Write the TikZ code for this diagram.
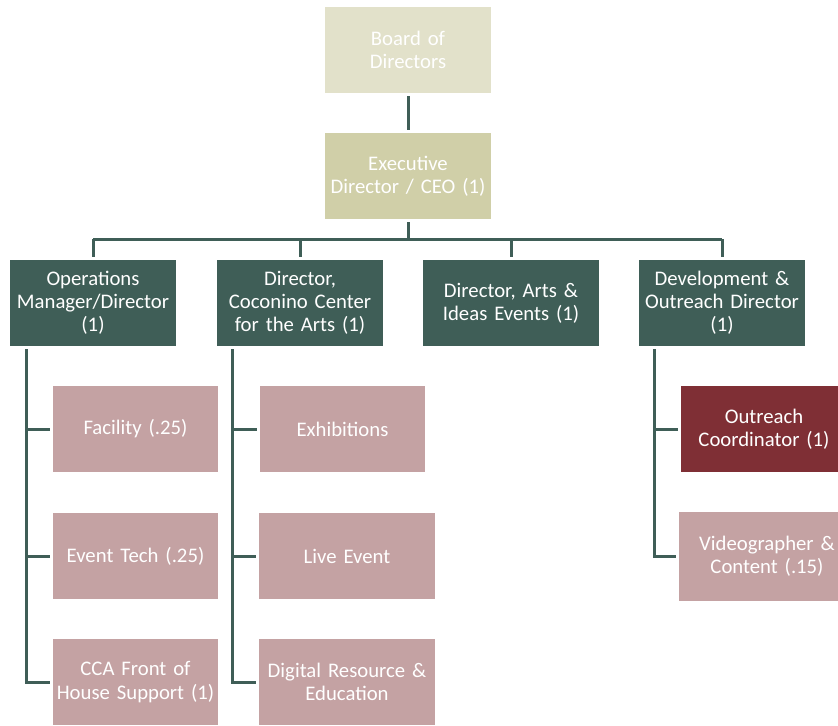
\documentclass[tikz,border=0pt]{standalone}
\usepackage{fontspec}
\setmainfont{Carlito}
\definecolor{BoardBeige}{RGB}{226,225,202}
\definecolor{ExecOlive}{RGB}{208,207,168}
\definecolor{LeadGreen}{RGB}{63,94,87}
\definecolor{StaffPink}{RGB}{196,162,163}
\definecolor{OutreachRed}{RGB}{127,47,53}
\usetikzlibrary{positioning, calc}

\begin{document}
\begin{tikzpicture}[x=0.02cm, y=-0.02cm,
    role/.style={text=white, inner sep=0pt, outer sep=0pt, align=center,
      text width=#1, minimum width=#1, minimum height=1.72cm,
      font=\fontsize{11.8}{13.2}\selectfont},
    role/.default=3.32cm,
    board/.style={role, fill=BoardBeige},
    chief/.style={role, fill=ExecOlive},
    lead/.style={role=#1, fill=LeadGreen},
    lead/.default=3.32cm,
    staff/.style={role=#1, fill=StaffPink},
    staff/.default=3.32cm,
    link/.style={draw=LeadGreen, line width=0.06cm, shorten <=0.06cm, shorten >=0.06cm}
  ]
  \useasboundingbox (0,0) rectangle (838,725);

  % top of the chart
  \node[board] (board) at (408,50) {Board of\\Directors};
  \node[chief] (exec) at (408,176) {Executive\\Director / CEO (1)};

  % directors
  \node[lead] (ops) at (93,303) {Operations\\Manager/Director\\(1)};
  \node[lead] (cca) at (300,303) {Director,\\Coconino Center\\for the Arts (1)};
  \node[lead=3.52cm] (arts) at (511,303) {Director, Arts \&\\Ideas Events (1)};
  \node[lead] (dev) at (722,303) {Development \&\\Outreach Director\\(1)};

  % operations staff
  \node[staff] (fac) at (135.5,429) {Facility (.25)};
  \node[staff] (tech) at (135.5,556) {Event Tech (.25)};
  \node[staff] (front) at (135.5,682) {CCA Front of\\House Support (1)};

  % arts center staff
  \node[staff] (exh) at (342.5,429) {Exhibitions};
  \node[staff=3.52cm] (live) at (347,556) {Live Event};
  \node[staff=3.52cm] (digi) at (347,682) {Digital Resource \&\\Education};

  % outreach staff
  \node[role, fill=OutreachRed] (outr) at (764,429) {Outreach\\Coordinator (1)};
  \node[staff=3.52cm, minimum height=1.78cm] (video) at (767,556) {Videographer \&\\Content (.15)};

  % connectors
  \draw[link] (board) -- (exec);
  \coordinate (bus) at (408,239);
  \draw[link, shorten >=0pt] (exec.south) -- (bus);
  \draw[link, shorten <=0pt, shorten >=0pt] (ops.north |- bus) -- (dev.north |- bus);
  \foreach \n in {ops,cca,arts,dev}
    \draw[link, shorten <=0pt] (\n.north |- bus) -- (\n.north);

  \coordinate (opsrail) at ($(ops.south west)+(16,0)$);
  \coordinate (ccarail) at ($(cca.south west)+(15,0)$);
  \coordinate (devrail) at ($(dev.south west)+(15,0)$);
  \draw[link] (opsrail) |- (front.west);
  \draw[link] (ccarail) |- (digi.west);
  \draw[link] (devrail) |- (video.west);
  \foreach \c in {fac,tech}
    \draw[link, shorten <=0pt] (opsrail |- \c.west) -- (\c.west);
  \foreach \c in {exh,live}
    \draw[link, shorten <=0pt] (ccarail |- \c.west) -- (\c.west);
  \draw[link, shorten <=0pt] (devrail |- outr.west) -- (outr.west);
\end{tikzpicture}
\end{document}
